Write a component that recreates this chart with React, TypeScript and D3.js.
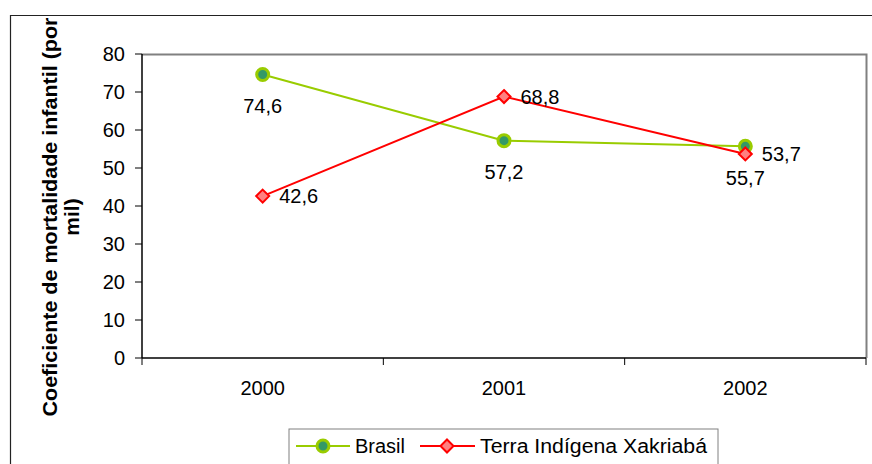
import React from "react";
import * as d3 from "d3";

const years = ["2000", "2001", "2002"];
const brasil = [74.6, 57.2, 55.7];
const xakriaba = [42.6, 68.8, 53.7];
const yTicks = [0, 10, 20, 30, 40, 50, 60, 70, 80];
const seriesNames = ["Brasil", "Terra Indígena Xakriabá"];

const W = 872, H = 464;
const left = 142, right = 866, top = 54, bottom = 358;
const font = "Arial, 'Liberation Sans', sans-serif";
const fs = 20;

export default function App() {
  const x = d3.scaleBand<string>().domain(years).range([left, right]);
  const y = d3.scaleLinear().domain([0, 80]).range([bottom, top]);
  const cx = (d: string) => (x(d) as number) + x.bandwidth() / 2;
  const line = d3.line<number>().x((_, i) => cx(years[i])).y((v) => y(v));
  const fmt = (v: number) => v.toFixed(1).replace(".", ",");
  const diamond = (px: number, py: number, r: number) =>
    `M${px},${py - r}L${px + r},${py}L${px},${py + r}L${px - r},${py}Z`;
  const bounds = [left, ...years.map((d) => (x(d) as number) + x.bandwidth())];

  return (
    <svg width={W} height={H} style={{ position: "absolute", left: 0, top: 0, fontFamily: font }}>
      <rect x={0} y={0} width={W} height={H} fill="#fff" />
      {/* outer frame */}
      <path d={`M10.5,${H}V15.5H${W}`} fill="none" stroke="#222" strokeWidth={1.2} />
      {/* plot area border */}
      <path d={`M${left},${top + 0.5}H${right + 0.5}V${bottom}`} fill="none" stroke="#808080" strokeWidth={2} />
      {/* y axis */}
      <line x1={left} x2={left} y1={top} y2={bottom} stroke="#000" strokeWidth={1.5} />
      {yTicks.map((t) => (
        <g key={t}>
          <line x1={left - 7} x2={left} y1={y(t)} y2={y(t)} stroke="#000" strokeWidth={1} />
          <text x={125} y={y(t)} dy="0.36em" textAnchor="end" fontSize={fs}>{t}</text>
        </g>
      ))}
      {/* x axis */}
      <line x1={left} x2={right} y1={bottom} y2={bottom} stroke="#000" strokeWidth={1.5} />
      {bounds.map((b, i) => (
        <line key={i} x1={b} x2={b} y1={bottom} y2={bottom + 7} stroke="#000" strokeWidth={1} />
      ))}
      {years.map((d) => (
        <text key={d} x={cx(d)} y={387.5} dy="0.36em" textAnchor="middle" fontSize={fs}>{d}</text>
      ))}
      {/* y title */}
      <text transform={`translate(57,217) rotate(-90)`} textAnchor="middle" fontSize={21} fontWeight="bold"
        textLength={399} lengthAdjust="spacingAndGlyphs">
        Coeficiente de mortalidade infantil (por
      </text>
      <text transform={`translate(79,217) rotate(-90)`} textAnchor="middle" fontSize={21} fontWeight="bold">
        mil)
      </text>
      {/* series */}
      <path d={line(brasil) as string} fill="none" stroke="#99CC00" strokeWidth={2} />
      <path d={line(xakriaba) as string} fill="none" stroke="#FF0000" strokeWidth={2} />
      {brasil.map((v, i) => (
        <circle key={i} cx={cx(years[i])} cy={y(v)} r={6} fill="#339966" stroke="#99CC00" strokeWidth={3} />
      ))}
      {xakriaba.map((v, i) => (
        <path key={i} d={diamond(cx(years[i]), y(v), 6.5)} fill="#FF8080" stroke="#FF0000" strokeWidth={2} />
      ))}
      {brasil.map((v, i) => (
        <text key={i} x={cx(years[i])} y={y(v) + 31} dy="0.36em" textAnchor="middle" fontSize={fs}>{fmt(v)}</text>
      ))}
      {xakriaba.map((v, i) => (
        <text key={i} x={cx(years[i]) + 16.5} y={y(v)} dy="0.36em" fontSize={fs}>{fmt(v)}</text>
      ))}
      {/* legend */}
      <rect x={289} y={429} width={429} height={40} fill="#fff" stroke="#808080" strokeWidth={1} />
      <line x1={296} x2={350} y1={446} y2={446} stroke="#99CC00" strokeWidth={2} />
      <circle cx={323} cy={446} r={6} fill="#339966" stroke="#99CC00" strokeWidth={3} />
      <text x={355} y={445.5} dy="0.36em" fontSize={fs}>{seriesNames[0]}</text>
      <line x1={420} x2={475} y1={446} y2={446} stroke="#FF0000" strokeWidth={2} />
      <path d={diamond(447, 446, 6.5)} fill="#FF8080" stroke="#FF0000" strokeWidth={2} />
      <text x={480} y={445.5} dy="0.36em" fontSize={fs} textLength={227} lengthAdjust="spacingAndGlyphs">{seriesNames[1]}</text>
    </svg>
  );
}
